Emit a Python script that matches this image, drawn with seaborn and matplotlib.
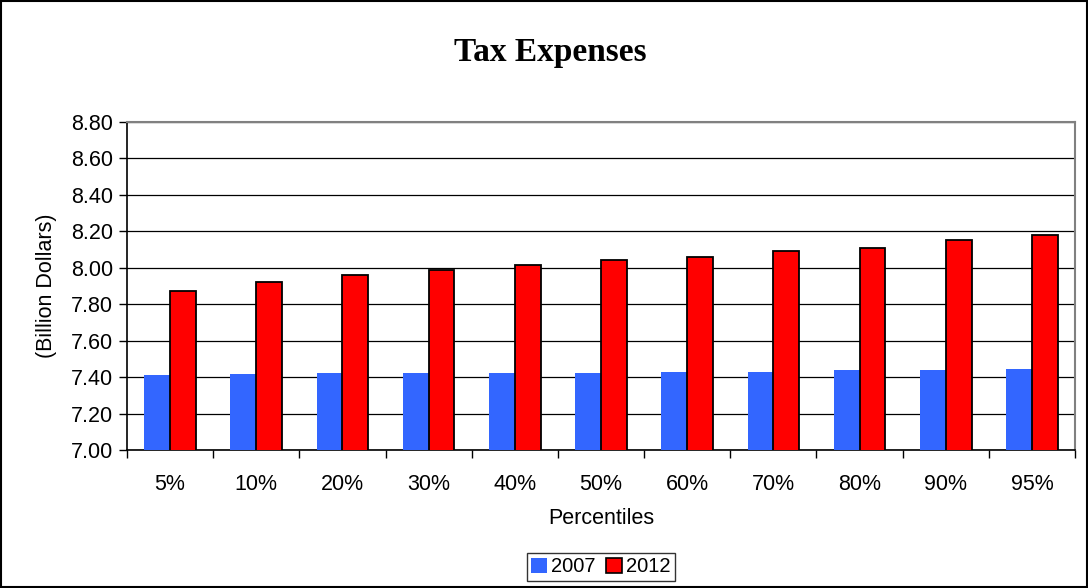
import numpy as np
import pandas as pd
import matplotlib
matplotlib.use("Agg")
import matplotlib.pyplot as plt
import seaborn as sns
from matplotlib.patches import Rectangle, Patch
from matplotlib.ticker import FormatStrFormatter, FixedLocator

percentiles = ["5%", "10%", "20%", "30%", "40%", "50%", "60%", "70%", "80%", "90%", "95%"]
values_2007 = [7.41, 7.415, 7.42, 7.42, 7.425, 7.425, 7.43, 7.43, 7.44, 7.44, 7.447]
values_2012 = [7.87, 7.92, 7.96, 7.99, 8.015, 8.04, 8.06, 8.09, 8.11, 8.15, 8.18]
years = ["2007", "2012"]
y_ticks = [7.00, 7.20, 7.40, 7.60, 7.80, 8.00, 8.20, 8.40, 8.60, 8.80]

df = pd.DataFrame({
    "Percentiles": percentiles * 2,
    "Year": [years[0]] * len(percentiles) + [years[1]] * len(percentiles),
    "Value": values_2007 + values_2012,
})

sns.set_style("white")
plt.rcParams["font.family"] = ["Liberation Sans", "DejaVu Sans"]
plt.rcParams["text.color"] = "black"
plt.rcParams["axes.labelcolor"] = "black"
plt.rcParams["xtick.color"] = "black"
plt.rcParams["ytick.color"] = "black"

fig = plt.figure(figsize=(10.88, 5.88), dpi=100)
ax = fig.add_axes([127 / 1088, 1 - 450 / 588, (1075 - 127) / 1088, (450 - 122) / 588])

colors = {"2007": "#3366FF", "2012": "#FF0000"}
sns.barplot(data=df, x="Percentiles", y="Value", hue="Year", palette=colors,
            width=0.6, gap=0, ax=ax, legend=False, saturation=1, zorder=3)

# outline only the 2012 bars
for bar in ax.containers[0]:
    bar.set_edgecolor("#3366FF")
    bar.set_linewidth(0)
for bar in ax.containers[1]:
    bar.set_edgecolor("black")
    bar.set_linewidth(1.3)

ax.set_ylim(7.0, 8.8)
ax.set_yticks(y_ticks)
ax.yaxis.set_major_formatter(FormatStrFormatter("%.2f"))
ax.set_xlim(-0.5, len(percentiles) - 0.5)
ax.xaxis.set_minor_locator(FixedLocator(np.arange(-0.5, len(percentiles), 1.0)))
ax.tick_params(axis="x", which="major", length=0, labelsize=15.5, pad=17)
ax.tick_params(axis="x", which="minor", length=6, width=1, color="black", direction="out", bottom=True)
ax.tick_params(axis="y", length=6, width=1, color="black", direction="out", left=True, labelsize=15.5, pad=4)

ax.yaxis.grid(True, color="black", linewidth=0.9, zorder=0)
ax.set_axisbelow(True)

for side in ["left", "bottom"]:
    ax.spines[side].set_color("black")
    ax.spines[side].set_linewidth(1.2)
for side in ["top", "right"]:
    ax.spines[side].set_color("#808080")
    ax.spines[side].set_linewidth(1.5)

ax.set_xlabel("Percentiles", fontsize=15.5, labelpad=10)
ax.set_ylabel("(Billion Dollars)", fontsize=15.5, labelpad=10)
fig.text(0.506, 1 - 52 / 588, "Tax Expenses", ha="center", va="center",
         fontsize=24, fontweight="bold", family=["Liberation Serif", "DejaVu Serif"])

handles = [Patch(facecolor=colors["2007"], edgecolor=colors["2007"], linewidth=0),
           Patch(facecolor=colors["2012"], edgecolor="black", linewidth=1.2)]
leg = fig.legend(handles, years, loc="center", bbox_to_anchor=(601 / 1088, 1 - 567 / 588),
                 ncol=2, fontsize=14.5, frameon=True, fancybox=False, handlelength=0.8,
                 handleheight=0.8, handletextpad=0.2, columnspacing=0.5,
                 borderpad=0.2, borderaxespad=0)
leg.get_frame().set_edgecolor("black")
leg.get_frame().set_linewidth(1.0)

fig.patches.append(Rectangle((0.001, 0.001), 0.998, 0.997, transform=fig.transFigure,
                             fill=False, edgecolor="black", linewidth=1.5))

fig.savefig("out.png", dpi=100)
